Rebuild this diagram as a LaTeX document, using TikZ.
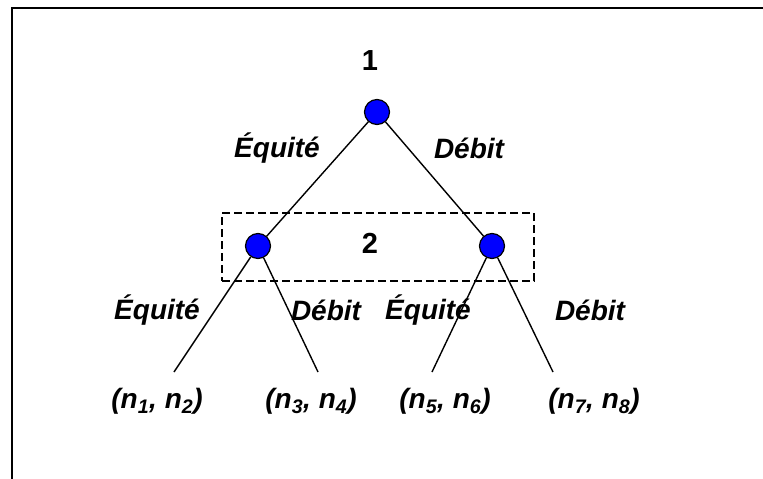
\documentclass[tikz,border=0pt]{standalone}
\usepackage{fontspec}
\setmainfont{Liberation Sans}
\begin{document}
\begin{tikzpicture}[x=1pt,y=-1pt,
  dot/.style={circle,draw=black,line width=1.2pt,fill={rgb,255:red,0;green,0;blue,255},minimum size=25pt,inner sep=0pt},
  lbl/.style={font=\fontsize{28}{32}\selectfont\bfseries\itshape,inner sep=0pt},
  num/.style={font=\fontsize{29}{33}\selectfont\bfseries,inner sep=0pt},
  branch/.style={line width=1.4pt},
  frame/.style={line width=2pt}]
\useasboundingbox (0,0) rectangle (763,479);
% frame (top and left edges)
\coordinate (ftr) at (763,8);
\coordinate (ftl) at (12,8);
\coordinate (fbl) at (12,479);
\draw[frame] (ftr) -- (ftl) -- (fbl);
% group box
\node[draw,line width=1.3pt,dash pattern=on 8pt off 4pt,minimum width=312pt,minimum height=68pt,inner sep=0pt] (grp) at (378,247) {};
% decision nodes
\node[dot] (r) at (377,112) {};
\node[dot] (a) at (258,246) {};
\node[dot] (b) at (492,246) {};
\node[num] (t1) at (370,61) {1};
\node[num] (t2) at (370,243) {2};
% leaf ends
\coordinate (e1) at (174,372);
\coordinate (e2) at (318,372);
\coordinate (e3) at (432,372);
\coordinate (e4) at (553,372);
% branches
\draw[branch] (r) -- (a);
\draw[branch] (r) -- (b);
\draw[branch] (a) -- (e1);
\draw[branch] (a) -- (e2);
\draw[branch] (b) -- (e3);
\draw[branch] (b) -- (e4);
% branch labels
\node[lbl] (l1) at (277,148) {Équité};
\node[lbl] (l2) at (469,148) {Débit};
\node[lbl] (l3) at (157,310) {Équité};
\node[lbl] (l4) at (326,310) {Débit};
\node[lbl] (l5) at (428,310) {Équité};
\node[lbl] (l6) at (590,310) {Débit};
% leaves
\node[lbl] (p1) at (157,401) {(n\textsubscript{1}, n\textsubscript{2})};
\node[lbl] (p2) at (311,401) {(n\textsubscript{3}, n\textsubscript{4})};
\node[lbl] (p3) at (445,401) {(n\textsubscript{5}, n\textsubscript{6})};
\node[lbl] (p4) at (594,401) {(n\textsubscript{7}, n\textsubscript{8})};
\end{tikzpicture}
\end{document}
